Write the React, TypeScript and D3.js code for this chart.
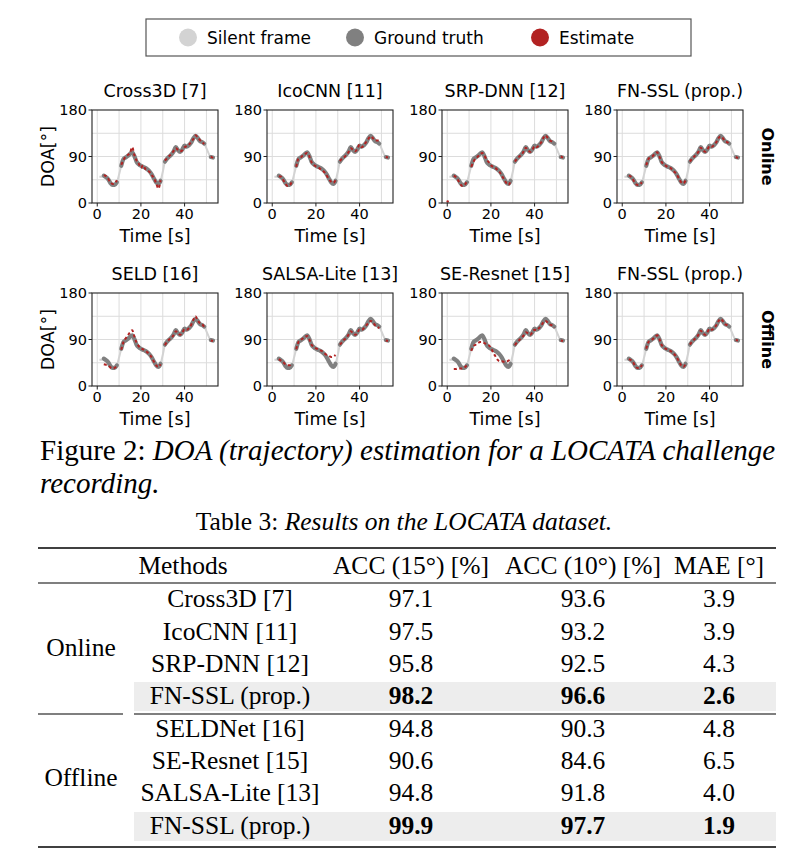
import React from "react";
import * as d3 from "d3";

// ---------- Figure data ----------
const TIME = [1,2,3,4,5,6,7,8,9,10,11,12,13,14,15,16,17,18,19,20,21,22,23,24,25,26,27,28,29,30,31,32,33,34,35,36,37,38,39,40,41,42,43,44,45,46,47,48,49,50,51,52,53];
const GROUND_TRUTH = [51,51,53,50,46,39,35,35,40,55,72,85,88,91,95,98,91,80,75,72,70,68,65,61,55,47,40,37,43,60,80,86,90,94,100,108,102,99,104,111,109,112,117,125,130,126,120,118,115,106,96,89,88];
const SILENT = [1,1,0,0,0,0,0,0,0,1,0,0,0,0,0,0,0,0,0,0,0,0,0,0,0,0,0,0,0,1,0,0,0,0,0,0,0,0,0,0,0,0,0,0,0,0,0,0,0,1,1,0,0];

const N = null;
const EST_CROSS3D = [N,N,54,52,47,40,37,38,44,N,74,83,90,93,97,108,93,82,76,68,73,66,63,60,54,48,38,28,44,N,82,87,91,95,101,106,103,100,102,108,110,113,118,124,131,127,122,118,114,N,N,90,87];
const EST_ICOCNN = [N,N,52,51,45,38,33,34,42,N,70,86,88,92,95,97,90,79,74,71,69,66,63,59,53,46,41,39,44,N,81,86,89,93,99,106,103,100,105,113,108,112,118,124,129,126,121,121,121,N,N,89,88];
const EST_SRPDNN = [N,N,53,50,44,36,33,35,42,N,70,80,86,90,94,97,92,84,79,73,70,68,64,60,53,46,39,35,42,N,80,86,90,93,100,107,102,99,103,110,108,112,117,126,131,126,121,119,116,N,N,90,88];
const EST_FNSSL_ON = [N,N,53,51,45,38,35,36,40,N,73,85,89,91,96,98,90,80,75,72,69,68,64,60,55,47,40,38,44,N,80,86,90,94,100,107,102,99,104,110,109,112,117,125,129,126,120,118,115,N,N,89,87];
const EST_SELD = [N,N,42,41,40,36,34,35,40,N,70,85,92,98,104,108,96,84,77,73,71,69,65,61,55,47,40,37,42,N,79,86,90,93,99,106,102,99,104,110,109,112,118,128,135,127,122,120,114,N,N,88,87];
const EST_SALSA = [N,N,52,49,46,42,40,40,44,N,71,85,89,92,95,97,90,80,76,73,71,69,67,63,60,58,56,57,60,N,80,85,90,93,100,106,102,99,103,110,109,112,117,122,126,124,118,115,112,N,N,88,87];
const EST_SERESNET = [N,N,33,33,34,34,34,36,40,N,68,77,80,83,85,85,83,81,79,74,65,58,51,48,48,47,47,49,51,N,79,85,89,93,98,104,102,99,104,109,108,112,117,123,126,123,119,117,113,N,N,88,87];
const EST_FNSSL_OFF = [N,N,52,50,46,38,35,35,41,N,72,85,88,91,95,98,91,80,75,72,70,68,65,61,55,47,40,37,43,N,80,86,90,94,100,107,102,99,104,111,109,112,117,125,130,126,120,118,115,N,N,89,88];
const OUTLIERS_SRPDNN = [[0.2, 3]];

const PANEL_TITLES_ONLINE = ["Cross3D [7]", "IcoCNN [11]", "SRP-DNN [12]", "FN-SSL (prop.)"];
const PANEL_TITLES_OFFLINE = ["SELD [16]", "SALSA-Lite [13]", "SE-Resnet [15]", "FN-SSL (prop.)"];
const EST_ONLINE = [EST_CROSS3D, EST_ICOCNN, EST_SRPDNN, EST_FNSSL_ON];
const EST_OFFLINE = [EST_SELD, EST_SALSA, EST_SERESNET, EST_FNSSL_OFF];
const OUTLIERS_ONLINE = [[], [], OUTLIERS_SRPDNN, []];

const X_TICKS = [0, 20, 40];
const X_GRID = [0, 10, 20, 30, 40, 50];
const Y_TICKS = [0, 90, 180];
const Y_GRID = [45, 90, 135];

const LEGEND_LABELS = ["Silent frame", "Ground truth", "Estimate"];
const LEGEND_COLORS = ["#d3d3d3", "#808080", "#b22222"];

// ---------- Table data ----------
const ONLINE_METHODS = ["Cross3D [7]", "IcoCNN [11]", "SRP-DNN [12]", "FN-SSL (prop.)"];
const ONLINE_ACC15 = [97.1, 97.5, 95.8, 98.2];
const ONLINE_ACC10 = [93.6, 93.2, 92.5, 96.6];
const ONLINE_MAE = [3.9, 3.9, 4.3, 2.6];
const OFFLINE_METHODS = ["SELDNet [16]", "SE-Resnet [15]", "SALSA-Lite [13]", "FN-SSL (prop.)"];
const OFFLINE_ACC15 = [94.8, 90.6, 94.8, 99.9];
const OFFLINE_ACC10 = [90.3, 84.6, 91.8, 97.7];
const OFFLINE_MAE = [4.8, 6.5, 4.0, 1.9];
const TABLE_HEADERS = ["ACC (15°) [%]", "ACC (10°) [%]", "MAE [°]"];

// ---------- Layout ----------
const COL_X = [92, 267, 442, 617];
const ROW_Y = [110, 293];
const PW = 126;
const PH = 93;
const SANS = "'DejaVu Sans', sans-serif";
const SERIF = "'Liberation Serif', 'Times New Roman', serif";

function Panel({ x0, y0, title, est, outliers, showY, idx }) {
  const xs = d3.scaleLinear().domain([-2.4, 55.3]).range([x0, x0 + PW]);
  const ys = d3.scaleLinear().domain([0, 180]).range([y0 + PH, y0]);
  const pts = TIME.map((t, i) => ({ t, g: GROUND_TRUTH[i], s: SILENT[i], e: est[i] }));
  const full = d3.line().x((d) => xs(d.t)).y((d) => ys(d.g)).curve(d3.curveMonotoneX);
  const voiced = d3.line().defined((d) => !d.s).x((d) => xs(d.t)).y((d) => ys(d.g)).curve(d3.curveMonotoneX);
  const estL = d3.line().defined((d) => d.e != null).x((d) => xs(d.t)).y((d) => ys(d.e)).curve(d3.curveMonotoneX);
  const clipId = `clip${idx}`;
  return (
    <g>
      <defs>
        <clipPath id={clipId}>
          <rect x={x0} y={y0} width={PW} height={PH} />
        </clipPath>
      </defs>
      <rect x={x0} y={y0} width={PW} height={PH} fill="#fff" />
      {X_GRID.map((v) => (
        <line key={"gx" + v} x1={xs(v)} x2={xs(v)} y1={y0} y2={y0 + PH} stroke="#dcdcdc" strokeWidth={1} />
      ))}
      {Y_GRID.map((v) => (
        <line key={"gy" + v} x1={x0} x2={x0 + PW} y1={ys(v)} y2={ys(v)} stroke="#dcdcdc" strokeWidth={1} />
      ))}
      <g clipPath={`url(#${clipId})`}>
        <path d={full(pts)} fill="none" stroke="#d3d3d3" strokeWidth={2} />
        <path d={voiced(pts)} fill="none" stroke="#808080" strokeWidth={4.2} strokeLinecap="round" />
        <path d={estL(pts)} fill="none" stroke="#b22222" strokeWidth={2} strokeDasharray="3 2.5" />
        {outliers.map((o, i) => (
          <circle key={i} cx={xs(o[0])} cy={ys(o[1])} r={1.2} fill="#b22222" />
        ))}
      </g>
      <rect x={x0} y={y0} width={PW} height={PH} fill="none" stroke="#222" strokeWidth={1.1} />
      {X_TICKS.map((v) => (
        <g key={"xt" + v}>
          <line x1={xs(v)} x2={xs(v)} y1={y0 + PH} y2={y0 + PH + 3.5} stroke="#222" strokeWidth={1} />
          <text x={xs(v)} y={y0 + PH + 15.5} textAnchor="middle" fontFamily={SANS} fontSize={14.5} fill="#000">
            {v}
          </text>
        </g>
      ))}
      {Y_TICKS.map((v) => (
        <g key={"yt" + v}>
          <line x1={x0 - 3.5} x2={x0} y1={ys(v)} y2={ys(v)} stroke="#222" strokeWidth={1} />
          <text x={x0 - 5} y={ys(v) + 5.2} textAnchor="end" fontFamily={SANS} fontSize={14.5} fill="#000">
            {v}
          </text>
        </g>
      ))}
      <text x={x0 + PW / 2} y={y0 - 13} textAnchor="middle" fontFamily={SANS} fontSize={17.5} fill="#000">
        {title}
      </text>
      <text x={x0 + PW / 2} y={y0 + PH + 39} textAnchor="middle" fontFamily={SANS} fontSize={17.5} fill="#000">
        Time [s]
      </text>
      {showY && (
        <text
          transform={`translate(53.5, ${y0 + PH / 2}) rotate(-90)`}
          textAnchor="middle"
          fontFamily={SANS}
          fontSize={17.5}
          fill="#000"
        >
          DOA[°]
        </text>
      )}
    </g>
  );
}

function Table() {
  const colX = { group: 81, method: 230, acc15: 411, acc10: 583, mae: 719, header: 183 };
  const left = 38;
  const right = 776;
  const fs = 25.5;
  const onlineY = [607, 640, 672, 704];
  const offlineY = [737, 769, 801, 834];
  const rowText = (methods, a15, a10, mae, ys, prefix) =>
    methods.map((m, i) => {
      const bold = i === methods.length - 1;
      return (
        <g key={prefix + i}>
          {bold && <rect x={134} y={ys[i] - 22} width={right - 134} height={29} fill="#ededed" />}
          <text x={colX.method} y={ys[i]} textAnchor="middle">{m}</text>
          <text x={colX.acc15} y={ys[i]} textAnchor="middle" fontWeight={bold ? "bold" : "normal"}>{a15[i].toFixed(1)}</text>
          <text x={colX.acc10} y={ys[i]} textAnchor="middle" fontWeight={bold ? "bold" : "normal"}>{a10[i].toFixed(1)}</text>
          <text x={colX.mae} y={ys[i]} textAnchor="middle" fontWeight={bold ? "bold" : "normal"}>{mae[i].toFixed(1)}</text>
        </g>
      );
    });
  return (
    <g fontFamily={SERIF} fontSize={fs} fill="#000">
      <text x={404} y={530} textAnchor="middle" fontSize={25.5}>
        Table 3: <tspan fontStyle="italic">Results on the LOCATA dataset.</tspan>
      </text>
      <line x1={left} x2={right} y1={548} y2={548} stroke="#000" strokeWidth={1.6} />
      <text x={colX.header} y={574} textAnchor="middle">Methods</text>
      <text x={colX.acc15} y={574} textAnchor="middle">{TABLE_HEADERS[0]}</text>
      <text x={colX.acc10} y={574} textAnchor="middle">{TABLE_HEADERS[1]}</text>
      <text x={colX.mae} y={574} textAnchor="middle">{TABLE_HEADERS[2]}</text>
      <line x1={left} x2={right} y1={583} y2={583} stroke="#000" strokeWidth={1.2} />
      {rowText(ONLINE_METHODS, ONLINE_ACC15, ONLINE_ACC10, ONLINE_MAE, onlineY, "on")}
      <text x={colX.group} y={656} textAnchor="middle">Online</text>
      <line x1={left} x2={123} y1={714} y2={714} stroke="#000" strokeWidth={1.2} />
      <line x1={134} x2={right} y1={714} y2={714} stroke="#000" strokeWidth={1.2} />
      {rowText(OFFLINE_METHODS, OFFLINE_ACC15, OFFLINE_ACC10, OFFLINE_MAE, offlineY, "off")}
      <text x={colX.group} y={786} textAnchor="middle">Offline</text>
      <line x1={left} x2={right} y1={847} y2={847} stroke="#000" strokeWidth={1.6} />
    </g>
  );
}

export default function App() {
  return (
    <svg
      width={804}
      height={864}
      viewBox="0 0 804 864"
      style={{ position: "absolute", left: 0, top: 0, background: "#fff" }}
    >
      <rect x={0} y={0} width={804} height={864} fill="#fff" />
      {/* Legend */}
      <rect x={146} y={19} width={545} height={37} fill="#fff" stroke="#555" strokeWidth={1.2} />
      {LEGEND_LABELS.map((l, i) => {
        const cx = [188, 355, 540][i];
        return (
          <g key={l}>
            <circle cx={cx} cy={37.5} r={9} fill={LEGEND_COLORS[i]} />
            <text x={cx + 19} y={43.5} fontFamily={SANS} fontSize={17} fill="#000">
              {l}
            </text>
          </g>
        );
      })}
      {PANEL_TITLES_ONLINE.map((t, i) => (
        <Panel key={"on" + i} idx={"on" + i} x0={COL_X[i]} y0={ROW_Y[0]} title={t} est={EST_ONLINE[i]} outliers={OUTLIERS_ONLINE[i]} showY={i === 0} />
      ))}
      {PANEL_TITLES_OFFLINE.map((t, i) => (
        <Panel key={"off" + i} idx={"off" + i} x0={COL_X[i]} y0={ROW_Y[1]} title={t} est={EST_OFFLINE[i]} outliers={[]} showY={i === 0} />
      ))}
      <text transform={`translate(762, ${ROW_Y[0] + PH / 2}) rotate(90)`} textAnchor="middle" fontFamily={SANS} fontWeight="bold" fontSize={16} fill="#000">
        Online
      </text>
      <text transform={`translate(762, ${ROW_Y[1] + PH / 2}) rotate(90)`} textAnchor="middle" fontFamily={SANS} fontWeight="bold" fontSize={16} fill="#000">
        Offline
      </text>
      {/* Caption */}
      <text x={40} y={460} fontFamily={SERIF} fontSize={29} fill="#000">
        Figure 2: <tspan fontStyle="italic">DOA (trajectory) estimation for a LOCATA challenge</tspan>
      </text>
      <text x={40} y={493} fontFamily={SERIF} fontSize={29} fontStyle="italic" fill="#000">
        recording.
      </text>
      <Table />
    </svg>
  );
}
